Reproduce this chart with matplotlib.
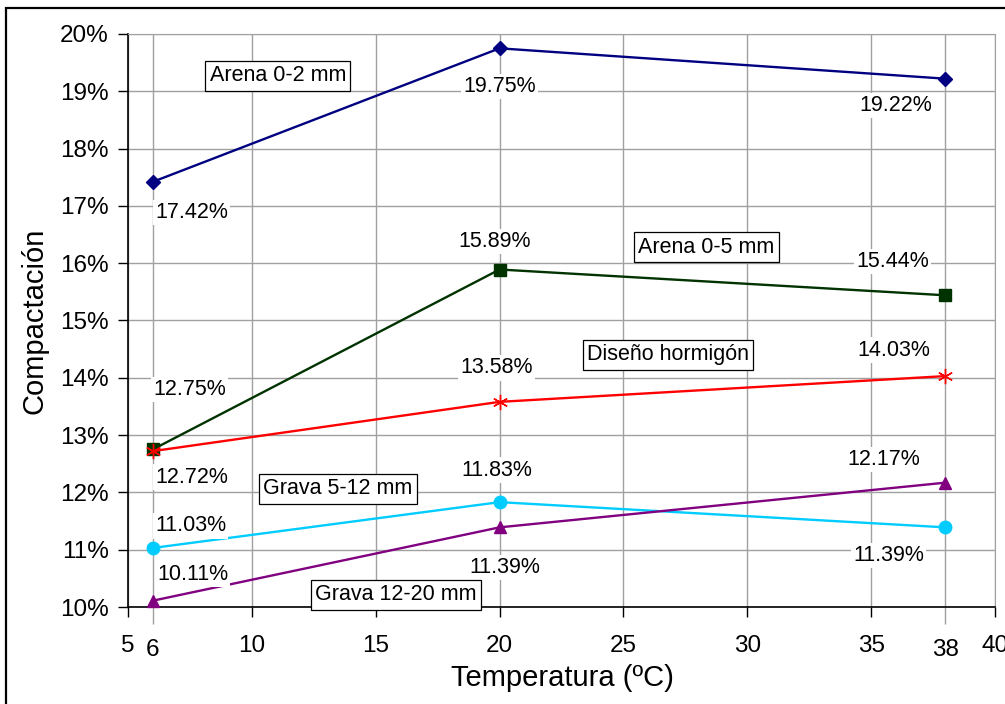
import matplotlib
matplotlib.use("Agg")
import matplotlib.pyplot as plt
from matplotlib.patches import Rectangle

plt.rcParams['font.family'] = ['Liberation Sans', 'DejaVu Sans']

# Datos
temperaturas = [6, 20, 38]
arena_0_2 = [17.42, 19.75, 19.22]
arena_0_5 = [12.75, 15.89, 15.44]
diseno_hormigon = [12.72, 13.58, 14.03]
grava_5_12 = [11.03, 11.83, 11.39]
grava_12_20 = [10.11, 11.39, 12.17]
nombres = ["Arena 0-2 mm", "Arena 0-5 mm", "Diseño hormigón", "Grava 5-12 mm", "Grava 12-20 mm"]

series = [arena_0_2, arena_0_5, diseno_hormigon, grava_5_12, grava_12_20]
colores = ['#000080', '#003300', '#FF0000', '#00CCFF', '#800080']
marcadores = ['D', 's', (6, 2, 0), 'o', '^']
tam_marc = [7, 8, 11, 9, 9]

# Desplazamientos de las etiquetas (pixeles)
desp = [
    [(39, -31), (0, -38), (-50, -27)],
    [(37, 60), (-5, 28), (-53, 34)],
    [(39, -26), (-3, 34), (-52, 26)],
    [(38, 22), (-3, 32), (-57, -28)],
    [(40, 26), (5, -40), (-62, 23)],
]
# Posiciones de los cuadros de nombre (fracción de ejes)
pos_nombres = [(0.173, 0.927), (0.667, 0.628), (0.623, 0.440), (0.242, 0.206), (0.309, 0.021)]

fig = plt.figure(figsize=(10.05, 7.04), dpi=100)
ax = fig.add_axes([128 / 1005, 1 - 607 / 704, 867 / 1005, 573 / 704])

# Marco exterior
fig.patches.append(Rectangle((6 / 1005, -0.05), 1.1, 1 - 8 / 704 + 0.05, transform=fig.transFigure,
                             fill=False, edgecolor='black', linewidth=1.6))

for s, c, m, ms in zip(series, colores, marcadores, tam_marc):
    ax.plot(temperaturas, s, color=c, lw=1.7, marker=m, ms=ms, mew=1.0, mec=c, mfc=c, zorder=3, clip_on=False)

for s, d in zip(series, desp):
    for x, y, (dx, dy) in zip(temperaturas, s, d):
        ax.annotate(f"{y:.2f}%", (x, y), xytext=(dx, dy), textcoords='offset pixels',
                    ha='center', va='center', fontsize=15.5, zorder=5,
                    bbox=dict(boxstyle='square,pad=0.1', fc='white', ec='none'))

for n, (px, py) in zip(nombres, pos_nombres):
    ax.text(px, py, n, transform=ax.transAxes, ha='center', va='center', fontsize=15.5, zorder=6,
            clip_on=False, bbox=dict(boxstyle='square,pad=0.2', fc='white', ec='black', lw=0.9))

ax.set_xlim(5, 40)
ax.set_ylim(10, 20)
ax.set_xticks(range(5, 41, 5))
ax.set_xticks(temperaturas, minor=True)
ax.set_xticklabels(['5', '10', '15', '20', '25', '30', '35', '40'])
ax.set_xticklabels(['6', '', '38'], minor=True)
ax.set_yticks(range(10, 21))
ax.set_yticklabels([f"{v}%" for v in range(10, 21)])

ax.tick_params(axis='both', which='major', labelsize=17.5, direction='out', length=7, width=1, color='black')
ax.tick_params(axis='x', which='major', pad=13)
ax.tick_params(axis='y', which='major', pad=7)
ax.tick_params(axis='x', which='minor', labelsize=17.5, direction='out', length=12, width=1,
               color='#A0A0A0', pad=11)

ax.grid(True, which='major', color='#A0A0A0', lw=1)
ax.grid(True, which='minor', axis='x', color='#A0A0A0', lw=1)
ax.set_axisbelow(True)

for sp in ['top', 'right']:
    ax.spines[sp].set_color('#A0A0A0')
for sp in ['left', 'bottom']:
    ax.spines[sp].set_color('black')
    ax.spines[sp].set_linewidth(1.2)

ax.set_xlabel("Temperatura (ºC)", fontsize=21)
ax.set_ylabel("Compactación", fontsize=21)
ax.xaxis.set_label_coords(0.5006, -0.100)
ax.yaxis.set_label_coords(-0.092, 0.5)

fig.savefig("out.png", dpi=100)
